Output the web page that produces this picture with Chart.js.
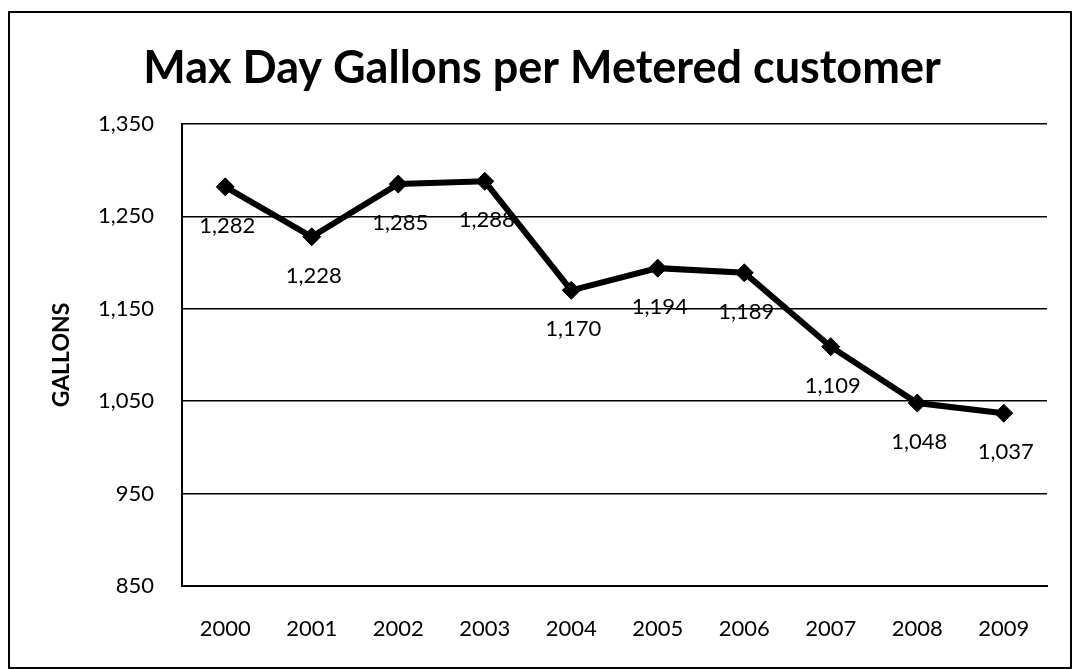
<!DOCTYPE html>
<html>
<head>
<meta charset="utf-8">
<script src="https://cdn.jsdelivr.net/npm/chart.js@4/dist/chart.umd.min.js"></script>
<style>
  html, body { margin: 0; padding: 0; background: #fff; }
  #wrap { position: relative; width: 1072px; height: 669px; }
</style>
</head>
<body>
<div id="wrap"><canvas id="c" width="1072" height="669"></canvas></div>
<script>
const titleText = 'Max Day Gallons per Metered customer';
const yAxisTitle = 'GALLONS';
const categories = ['2000','2001','2002','2003','2004','2005','2006','2007','2008','2009'];
const gallons = [1282, 1228, 1285, 1288, 1170, 1194, 1189, 1109, 1048, 1037];
const yMin = 850, yMax = 1350, yStep = 100;

const fmt = v => Number(v).toLocaleString('en-US');

const frame = {
  id: 'frame',
  afterDraw(chart) {
    const ctx = chart.ctx;
    ctx.save();
    ctx.strokeStyle = '#000';
    ctx.lineWidth = 2;
    ctx.strokeRect(9, 12, 1062, 656);
    ctx.restore();
  }
};

const valueLabels = {
  id: 'valueLabels',
  afterDatasetsDraw(chart) {
    const ctx = chart.ctx;
    const meta = chart.getDatasetMeta(0);
    ctx.save();
    ctx.font = '22px Lato';
    ctx.fillStyle = '#000';
    ctx.textAlign = 'center';
    ctx.textBaseline = 'middle';
    meta.data.forEach((el, i) => {
      ctx.fillText(fmt(chart.data.datasets[0].data[i]), el.x + 2, el.y + 39);
    });
    ctx.restore();
  }
};

new Chart(document.getElementById('c'), {
  type: 'line',
  data: {
    labels: categories,
    datasets: [{
      data: gallons,
      borderColor: '#000',
      backgroundColor: '#000',
      borderWidth: 6,
      pointStyle: 'rectRot',
      pointRadius: 9,
      pointBackgroundColor: '#000',
      pointBorderColor: '#000',
      pointBorderWidth: 1,
      tension: 0,
      fill: false
    }]
  },
  options: {
    responsive: false,
    animation: false,
    devicePixelRatio: 1,
    layout: { padding: { left: 37, right: 25, top: 0, bottom: 27 } },
    plugins: {
      legend: { display: false },
      tooltip: { enabled: false },
      title: {
        display: true,
        text: titleText,
        color: '#000',
        font: { family: 'Lato', size: 45, weight: 'bold' },
        padding: { top: 41, bottom: 29 }
      }
    },
    scales: {
      x: {
        offset: true,
        afterFit(scale) { scale.height = 56; },
        grid: { display: false, drawTicks: false },
        border: { display: true, color: '#000', width: 2 },
        ticks: { color: '#000', font: { family: 'Lato', size: 22 }, padding: 30, maxRotation: 0 }
      },
      y: {
        min: yMin, max: yMax,
        afterFit(scale) { scale.width = 145; },
        grid: { color: '#000', lineWidth: 1.5, drawTicks: false },
        border: { display: true, color: '#000', width: 2 },
        ticks: { stepSize: yStep, color: '#000', font: { family: 'Lato', size: 22 }, padding: 28, callback: v => fmt(v) },
        title: {
          display: true,
          text: yAxisTitle,
          color: '#000',
          font: { family: 'Lato', size: 23, weight: 'bold' },
          padding: { top: 11, bottom: 0 }
        }
      }
    }
  },
  plugins: [frame, valueLabels]
});
</script>
</body>
</html>
